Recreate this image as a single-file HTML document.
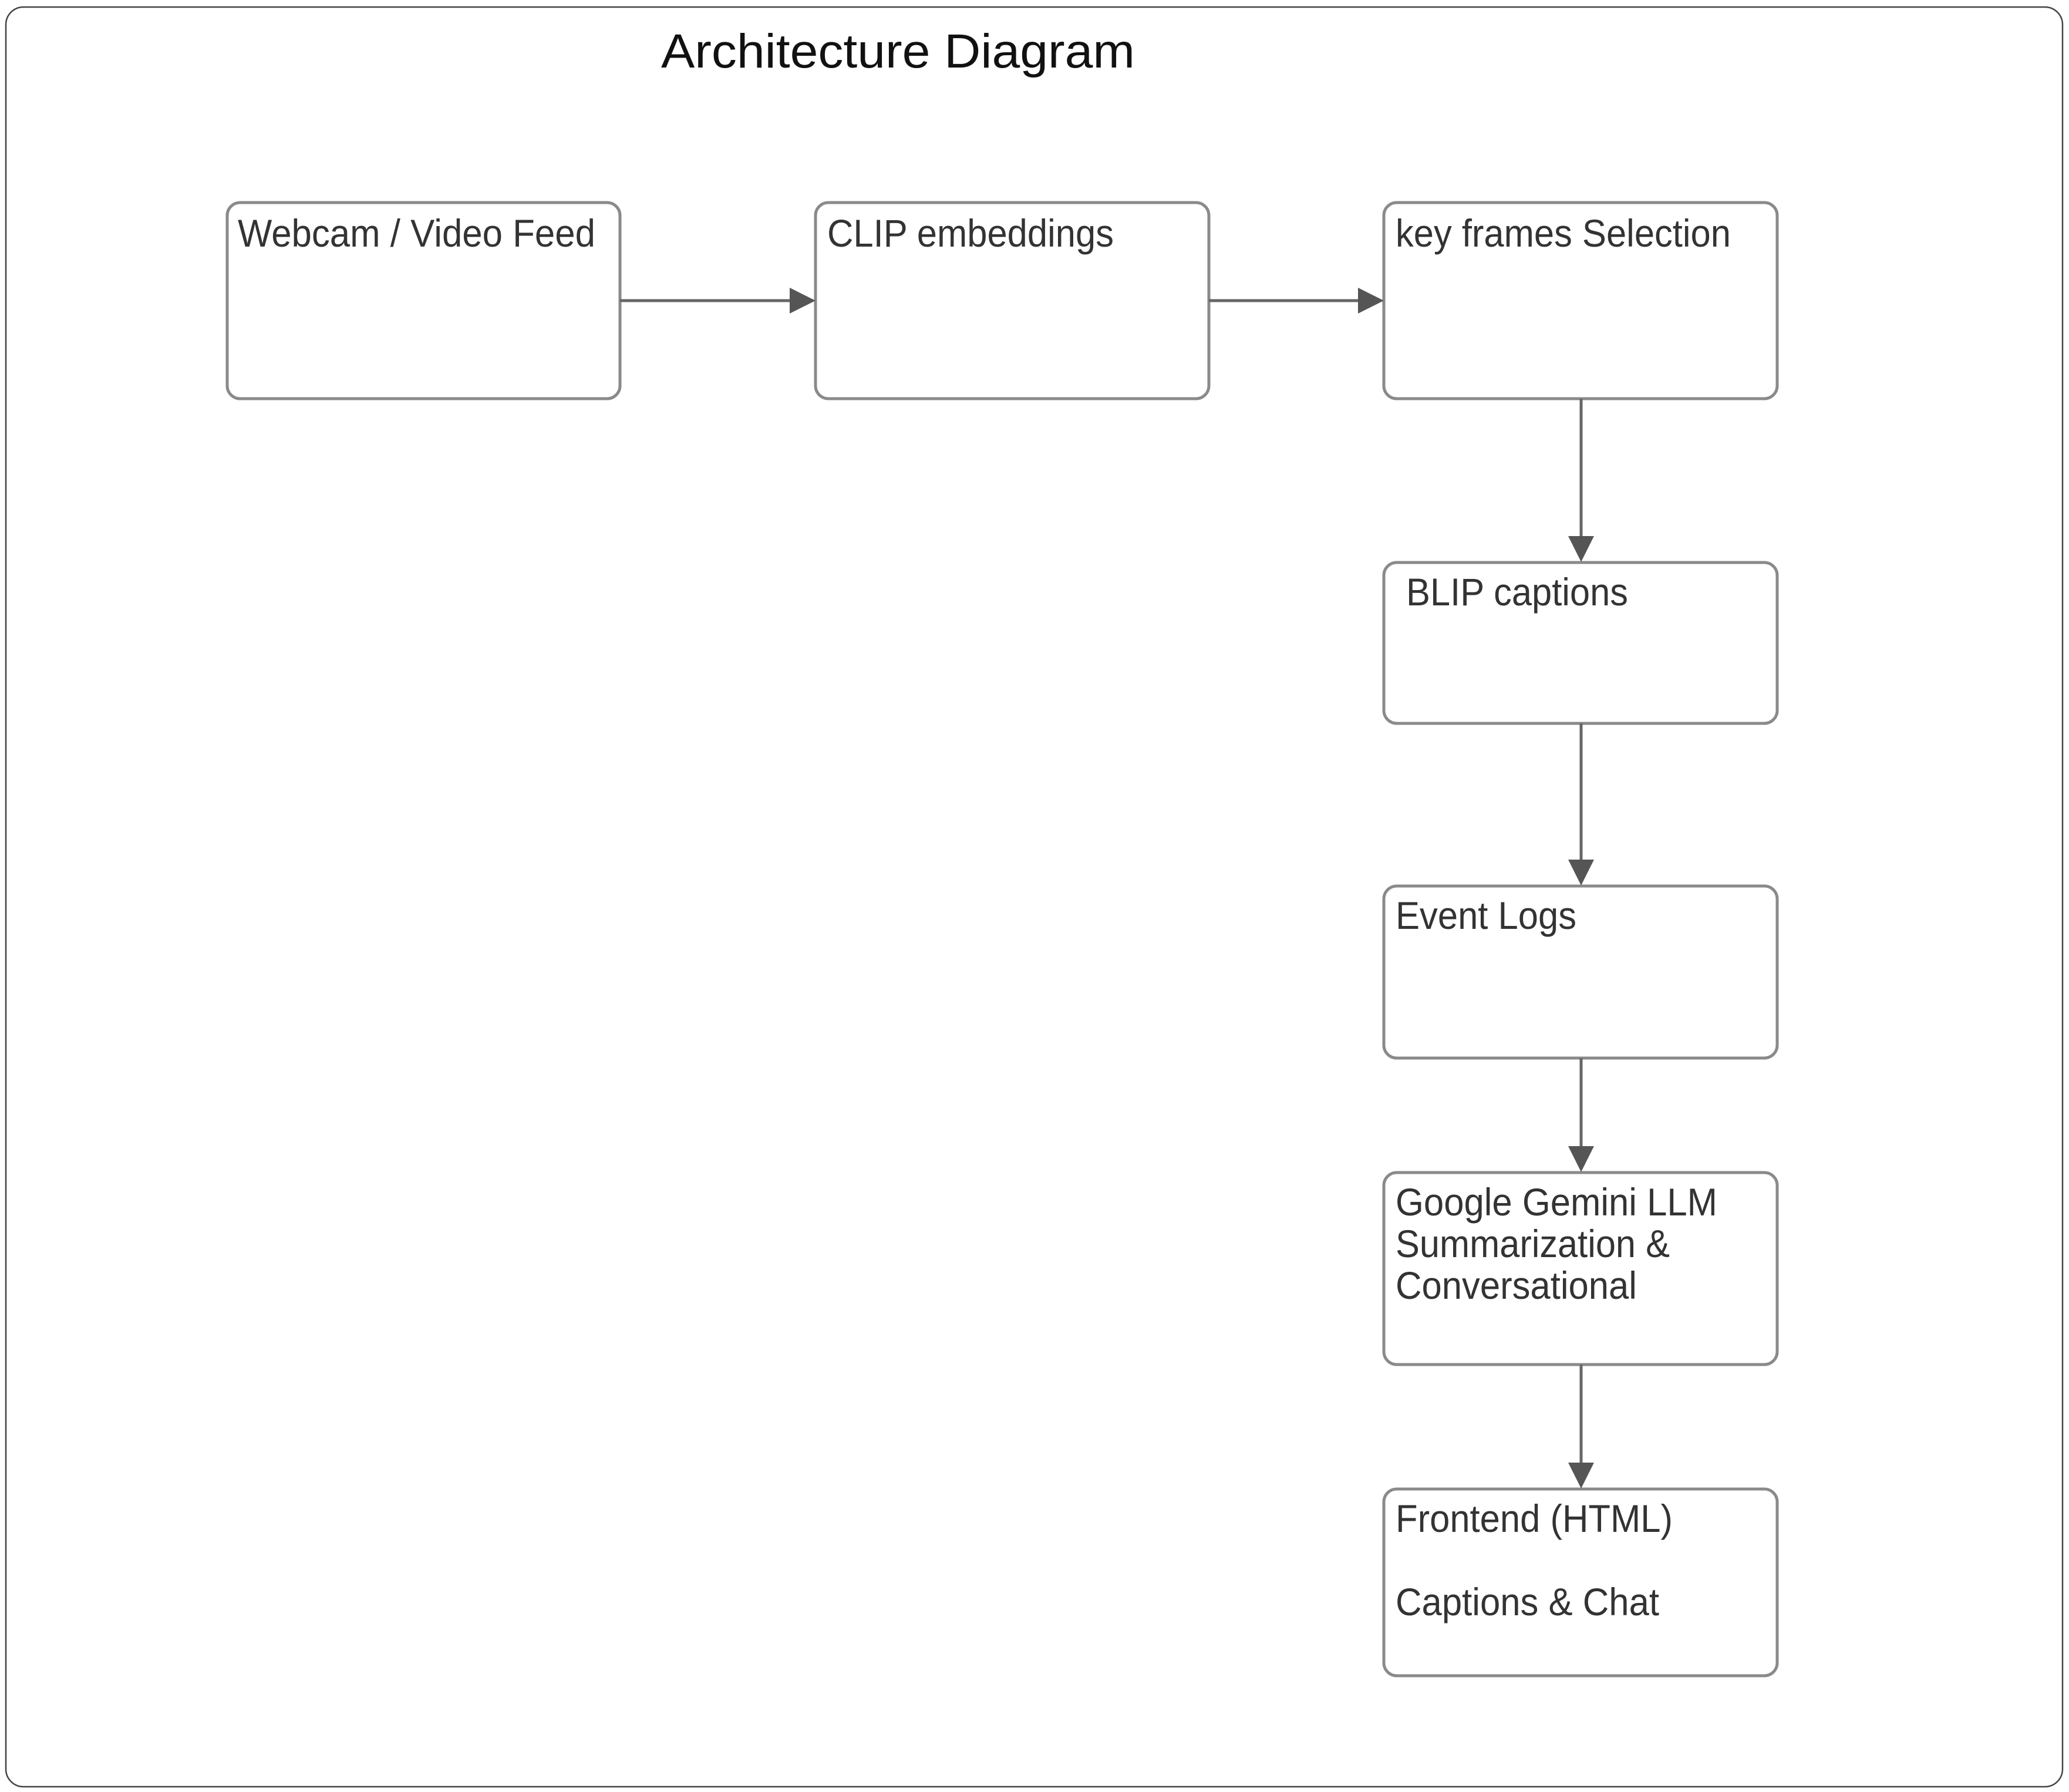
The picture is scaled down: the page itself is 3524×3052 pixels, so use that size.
<!DOCTYPE html>
<html><head><meta charset="utf-8"><style>
html,body{margin:0;padding:0;background:#fff;}
svg{display:block;}
.b{fill:#fff;stroke:#8a8a8a;stroke-width:5;}
.t{font-family:"Liberation Sans",Arial,sans-serif;font-size:66px;fill:#333;}
.l{stroke:#666;stroke-width:5;fill:none;}
.h{fill:#555;}
</style></head><body>
<svg width="3524" height="3052" viewBox="0 0 3524 3052" xmlns="http://www.w3.org/2000/svg">
<rect x="10" y="12" width="3503" height="3031" rx="30" fill="#fff" stroke="#444" stroke-width="2.5"/>
<text x="1126" y="115" font-family="Liberation Sans,Arial,sans-serif" font-size="82" fill="#111" textLength="807" lengthAdjust="spacingAndGlyphs">Architecture Diagram</text>

<rect class="b" x="387" y="345" width="669" height="334" rx="22"/>
<rect class="b" x="1389" y="345" width="670" height="334" rx="22"/>
<rect class="b" x="2357" y="345" width="670" height="334" rx="22"/>
<rect class="b" x="2357" y="958" width="670" height="274" rx="22"/>
<rect class="b" x="2357" y="1509" width="670" height="293" rx="22"/>
<rect class="b" x="2357" y="1997" width="670" height="327" rx="22"/>
<rect class="b" x="2357" y="2536" width="670" height="318" rx="22"/>

<text class="t" x="405" y="420" textLength="609" lengthAdjust="spacingAndGlyphs">Webcam / Video Feed</text>
<text class="t" x="1409" y="420" textLength="488" lengthAdjust="spacingAndGlyphs">CLIP embeddings</text>
<text class="t" x="2377" y="420" textLength="571" lengthAdjust="spacingAndGlyphs">key frames Selection</text>
<text class="t" x="2395" y="1031" textLength="378" lengthAdjust="spacingAndGlyphs">BLIP captions</text>
<text class="t" x="2377" y="1582" textLength="308" lengthAdjust="spacingAndGlyphs">Event Logs</text>
<text class="t" x="2377" y="2070" textLength="548" lengthAdjust="spacingAndGlyphs">Google Gemini LLM</text>
<text class="t" x="2377" y="2141" textLength="467" lengthAdjust="spacingAndGlyphs">Summarization &amp;</text>
<text class="t" x="2377" y="2212" textLength="411" lengthAdjust="spacingAndGlyphs">Conversational</text>
<text class="t" x="2377" y="2609" textLength="472" lengthAdjust="spacingAndGlyphs">Frontend (HTML)</text>
<text class="t" x="2377" y="2751" textLength="449" lengthAdjust="spacingAndGlyphs">Captions &amp; Chat</text>

<line class="l" x1="1056" y1="512" x2="1350" y2="512"/>
<polygon class="h" points="1345,490 1389,512 1345,534"/>
<line class="l" x1="2059" y1="512" x2="2318" y2="512"/>
<polygon class="h" points="2313,490 2357,512 2313,534"/>

<line class="l" x1="2693" y1="679" x2="2693" y2="918"/>
<polygon class="h" points="2671,913 2693,957 2715,913"/>
<line class="l" x1="2693" y1="1232" x2="2693" y2="1469"/>
<polygon class="h" points="2671,1464 2693,1508 2715,1464"/>
<line class="l" x1="2693" y1="1802" x2="2693" y2="1957"/>
<polygon class="h" points="2671,1952 2693,1996 2715,1952"/>
<line class="l" x1="2693" y1="2324" x2="2693" y2="2496"/>
<polygon class="h" points="2671,2491 2693,2535 2715,2491"/>
</svg>
</body></html>
